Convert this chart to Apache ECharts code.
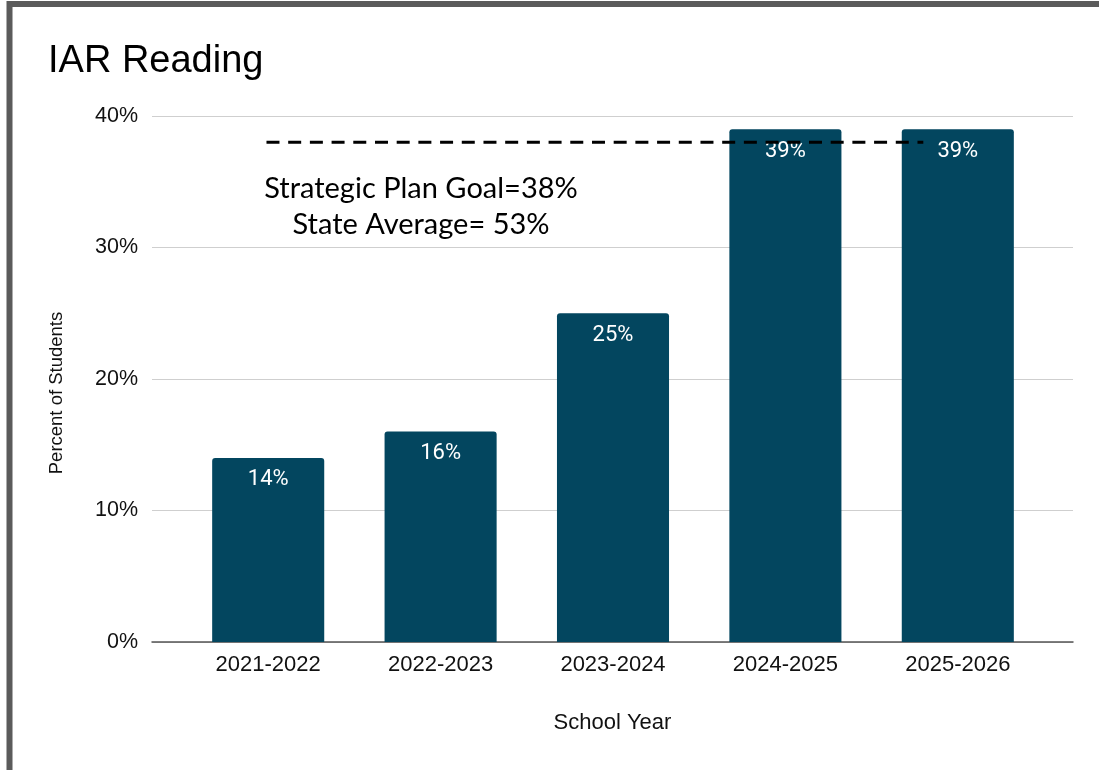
<!DOCTYPE html>
<html>
<head>
<meta charset="utf-8">
<script src="https://cdn.jsdelivr.net/npm/echarts@6/dist/echarts.min.js"></script>
<style>
html,body{margin:0;padding:0;background:#fff;}
#c{width:1099px;height:770px;}
</style>
</head>
<body>
<div id="c"></div>
<script>
const categories = ['2021-2022', '2022-2023', '2023-2024', '2024-2025', '2025-2026'];
const percentStudents = [14, 16, 25, 39, 39];
const yTicks = [0, 10, 20, 30, 40];
const goalValue = 38;
const goalSpan = [0.49, 4.3]; // in category-band units along the axis
const annotationLines = ['Strategic Plan Goal=38%', 'State Average= 53%'];

const chart = echarts.init(document.getElementById('c'), null, {renderer: 'canvas'});
const yMin = yTicks[0], yMax = yTicks[yTicks.length - 1], yStep = yTicks[1] - yTicks[0];

chart.setOption({
  backgroundColor: '#fff',
  animation: false,
  title: [{
    text: 'IAR Reading',
    left: 43, top: 38,
    textStyle: {fontFamily: 'Liberation Sans', fontSize: 38, fontWeight: 'normal', color: '#000'}
  }, {
    text: annotationLines.join('\n'),
    left: 416, top: 166, textAlign: 'center',
    textStyle: {fontFamily: 'Lato', fontSize: 29, fontWeight: 'normal', color: '#000', lineHeight: 36}
  }],
  graphic: [{
    type: 'rect', silent: true, z: 100,
    shape: {x: 9.5, y: 4, width: 1300, height: 1000},
    style: {fill: 'none', stroke: '#5b5b5b', lineWidth: 6}
  }],
  grid: [
    {left: 152, right: 26, top: 116, bottom: 128},
    {left: 182, right: 55, top: 116, bottom: 128}
  ],
  xAxis: [{
    gridIndex: 0, type: 'value', min: 0, max: 1,
    axisLine: {show: true, onZero: false, lineStyle: {color: '#555', width: 1.5}},
    axisTick: {show: false}, axisLabel: {show: false}, splitLine: {show: false},
    name: 'School Year', nameLocation: 'middle', nameGap: 70,
    nameTextStyle: {fontFamily: 'Liberation Sans', fontSize: 22, color: '#111'}
  }, {
    gridIndex: 1, type: 'category', data: categories,
    axisLine: {show: false}, axisTick: {show: false},
    axisLabel: {fontFamily: 'Liberation Sans', fontSize: 22, color: '#111', margin: 12}
  }, {
    gridIndex: 1, type: 'value', min: 0, max: categories.length, show: false
  }],
  yAxis: [{
    gridIndex: 0, type: 'value', min: yMin, max: yMax, interval: yStep,
    axisLine: {show: false}, axisTick: {show: false},
    axisLabel: {formatter: '{value}%', fontFamily: 'Liberation Sans', fontSize: 21.5, color: '#111', margin: 14},
    splitLine: {lineStyle: {color: '#cfcfcf', width: 1.2}},
    name: 'Percent of Students', nameLocation: 'middle', nameGap: 86,
    nameTextStyle: {fontFamily: 'Liberation Sans', fontSize: 18.5, color: '#111', padding: [0, 28, 0, 0]}
  }, {
    gridIndex: 1, type: 'value', min: yMin, max: yMax, interval: yStep, show: false
  }],
  series: [{
    type: 'bar', xAxisIndex: 1, yAxisIndex: 1,
    data: percentStudents, barWidth: '65%',
    itemStyle: {color: '#03465f', borderRadius: [3, 3, 0, 0]},
    label: {show: true, position: 'insideTop', distance: 11, formatter: '{c}%',
      fontFamily: 'Roboto', fontSize: 22, color: '#fff'},
    z: 2
  }, {
    type: 'line', xAxisIndex: 2, yAxisIndex: 1,
    data: [[goalSpan[0], goalValue], [goalSpan[1], goalValue]],
    symbol: 'none', z: 5,
    lineStyle: {color: '#000', width: 3, type: [13, 8.7]}
  }]
});
</script>
</body>
</html>
